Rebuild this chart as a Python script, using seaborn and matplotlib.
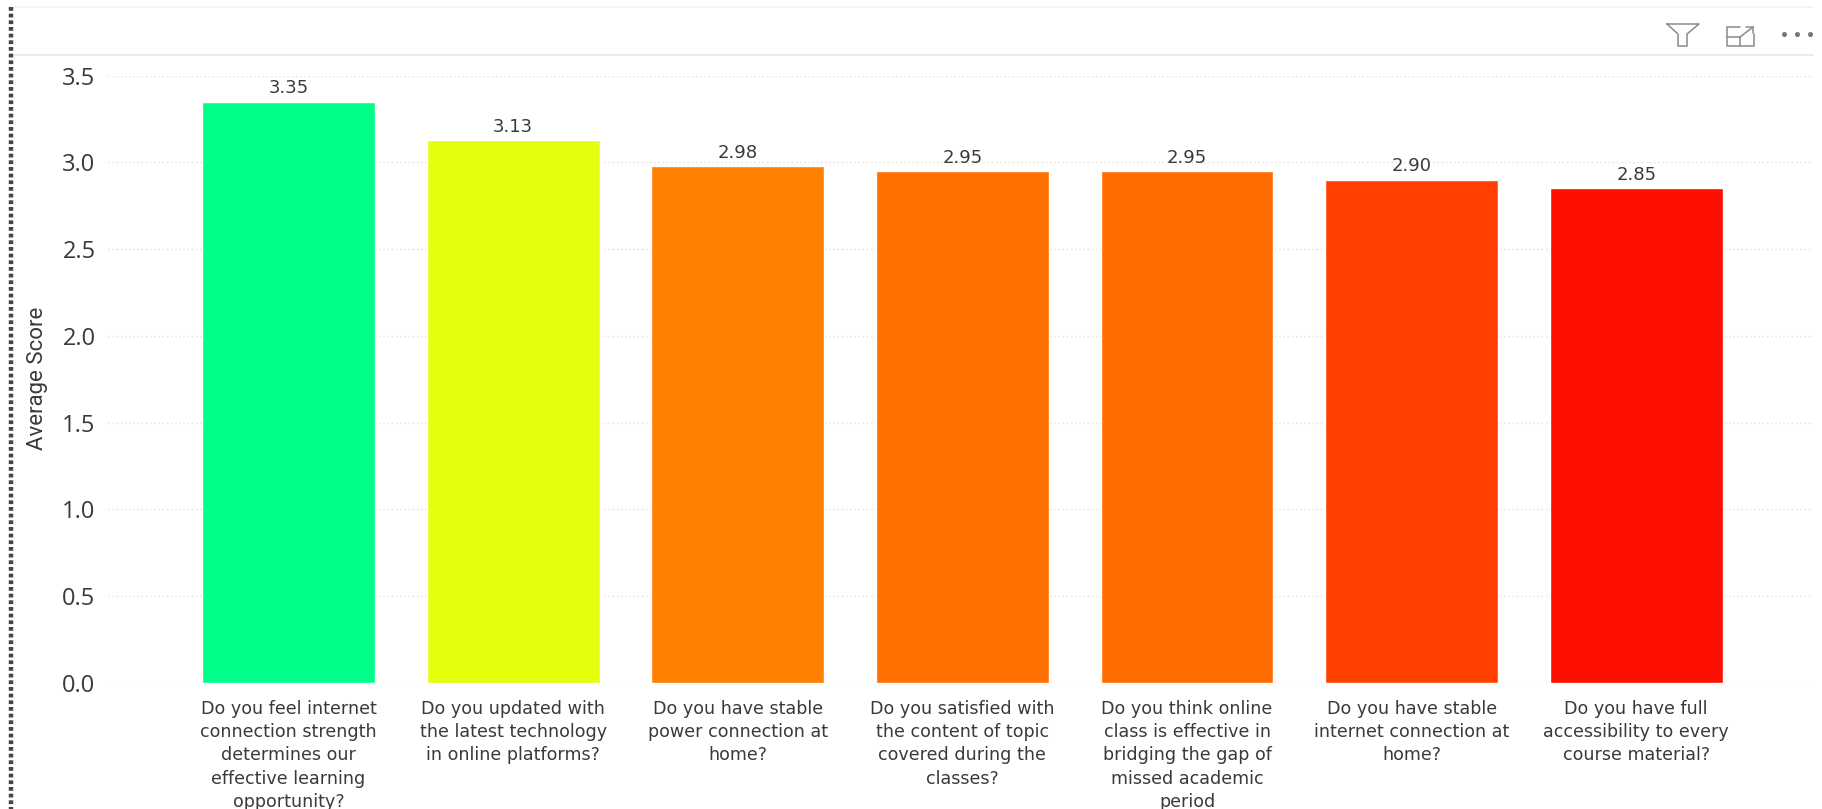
import matplotlib
matplotlib.use('Agg')
import matplotlib.pyplot as plt
import pandas as pd
import seaborn as sns
from matplotlib.lines import Line2D

questions = [
    'Do you feel internet\nconnection strength\ndetermines our\neffective learning\nopportunity?',
    'Do you updated with\nthe latest technology\nin online platforms?',
    'Do you have stable\npower connection at\nhome?',
    'Do you satisfied with\nthe content of topic\ncovered during the\nclasses?',
    'Do you think online\nclass is effective in\nbridging the gap of\nmissed academic\nperiod',
    'Do you have stable\ninternet connection at\nhome?',
    'Do you have full\naccessibility to every\ncourse material?',
]
scores = [3.35, 3.13, 2.98, 2.95, 2.95, 2.90, 2.85]
colors = ['#00FF88', '#E6FF0F', '#FF8000', '#FF7000', '#FF6D00', '#FF4000', '#FF0F00']
y_ticks = [0.0, 0.5, 1.0, 1.5, 2.0, 2.5, 3.0, 3.5]

W, H = 1822, 809
TEXT = '#3a3a3a'

sns.set_theme(style='white')
plt.rcParams['font.family'] = ['DejaVu Sans']

df = pd.DataFrame({'question': questions, 'score': scores})

fig = plt.figure(figsize=(W / 100, H / 100), dpi=100)
ax = fig.add_axes([108 / W, 1 - 683 / H, (1813 - 108) / W, (683 - 75.5) / H])

sns.barplot(data=df, x='question', y='score', hue='question', palette=colors,
            saturation=1, width=0.77, legend=False, ax=ax)

for c in ax.containers:
    ax.bar_label(c, fmt='%.2f', padding=3, fontsize=13, color=TEXT)

ax.set_xlim(-0.804, 6.787)
ax.set_ylim(0, 3.5)
ax.set_yticks(y_ticks)
ax.set_yticklabels([f'{t:.1f}' for t in y_ticks], fontsize=17, color=TEXT, family='Open Sans')
ax.set_xlabel('')
ax.set_ylabel('')
ax.tick_params(axis='x', length=0, pad=12, labelsize=12.6, labelcolor=TEXT)
ax.tick_params(axis='y', length=0, pad=9)
for lab in ax.get_xticklabels():
    lab.set_linespacing(1.38)
ax.grid(axis='y', color='#e0e0e0', linestyle=(0, (1, 2)), linewidth=1)
ax.set_axisbelow(True)
sns.despine(ax=ax, left=True, bottom=True)

fig.text(38 / W, 1 - 378 / H, 'Average Score', rotation=90, ha='center', va='center',
         fontsize=16, color=TEXT, family='Roboto')


# report frame and header icons, in pixels of the screenshot
def px_line(xs, ys, color='#8a8a8a', lw=1.1, **kw):
    fig.add_artist(Line2D([x / W for x in xs], [1 - y / H for y in ys], color=color, lw=lw, **kw))


px_line([15, 1813], [7, 7], color='#f2f2f2', lw=1.2)
px_line([15, 1813], [55, 55], color='#e6e6e6', lw=1.2)
px_line([11, 11], [7, 809], color='#444444', lw=3.2, linestyle=(0, (0.85, 0.65)))

px_line([1667, 1699, 1687, 1687, 1678, 1678, 1667], [24, 24, 34, 46, 46, 34, 24])
px_line([1740, 1727, 1727, 1754, 1754], [27, 27, 46, 46, 34])
px_line([1727, 1740, 1740], [37, 37, 46])
px_line([1740, 1753], [37, 27])
px_line([1746, 1753, 1753], [27, 27, 33])
for x in [1784, 1797, 1810]:
    px_line([x], [34], marker='o', markersize=2.6, linestyle='none', color='#777777')

fig.savefig('out.png', dpi=100, facecolor='white')
